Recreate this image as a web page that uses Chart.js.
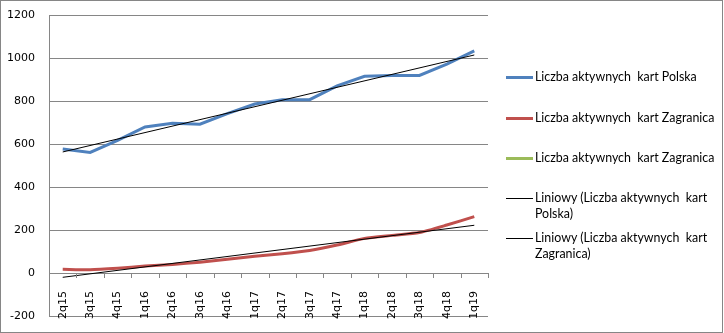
<!DOCTYPE html>
<html><head><meta charset="utf-8">
<script src="https://cdn.jsdelivr.net/npm/chart.js@4/dist/chart.umd.min.js"></script>
<style>
html,body{margin:0;padding:0;background:#fff;}
#wrap{position:absolute;left:0;top:0;width:724px;height:333px;}
#frame{position:absolute;left:0;top:0;width:723px;height:333px;box-sizing:border-box;border:1px solid #868686;pointer-events:none;}
#legend{position:absolute;left:0;top:0;font-family:Lato,"Liberation Sans",sans-serif;font-size:12.4px;color:#000;}
.li{position:absolute;left:535px;line-height:16.5px;white-space:pre;}
.sw{position:absolute;left:506px;width:27px;}
</style></head>
<body>
<div id="wrap"><canvas id="c" width="724" height="333"></canvas>
<div id="legend"></div>
<div id="frame"></div></div>
<script>
const categories = ['2q15','3q15','4q15','1q16','2q16','3q16','4q16','1q17','2q17','3q17','4q17','1q18','2q18','3q18','4q18','1q19'];
const polska = [577,561,617,679,696,692,741,786,806,806,870,915,919,919,972,1033];
const zagranica = [17,15,22,32,40,50,64,78,90,105,130,161,175,188,223,262];
const zagranica2 = [];
const trendPolska = [563,1014];
const trendZagranica = [-20,222];
const yTicks = [-200,0,200,400,600,800,1000,1200];
const seriesNames = ['Liczba aktywnych  kart Polska','Liczba aktywnych  kart Zagranica','Liczba aktywnych  kart Zagranica','Liniowy (Liczba aktywnych  kart\nPolska)','Liniowy (Liczba aktywnych  kart\nZagranica)'];
const colors = ['#4F81BD','#C0504D','#9BBB59','#000000','#000000'];

Chart.defaults.font.family = "'DejaVu Sans'";
const first = categories[0], last = categories[categories.length-1];
const grey = '#868686';

const tickMarks = {
  id:'tickMarks',
  afterDatasetsDraw(chart){
    const xs = chart.scales.x, ys = chart.scales.y, ctx = chart.ctx;
    const y0 = Math.round(ys.getPixelForValue(0));
    ctx.save(); ctx.strokeStyle = grey; ctx.lineWidth = 1; ctx.beginPath();
    for (let i = 0; i <= categories.length; i++) {
      const x = Math.round(xs.getPixelForValue(i - 0.5)) + 0.5;
      ctx.moveTo(x, y0); ctx.lineTo(x, y0 + 5);
    }
    ctx.stroke(); ctx.restore();
  }
};

new Chart(document.getElementById('c'), {
  type:'line',
  data:{labels:categories,datasets:[
    {label:seriesNames[0],data:polska,borderColor:colors[0],borderWidth:3,pointRadius:0,order:2,tension:0},
    {label:seriesNames[1],data:zagranica,borderColor:colors[1],borderWidth:3,pointRadius:0,order:2,tension:0.2},
    {label:seriesNames[2],data:zagranica2,borderColor:colors[2],borderWidth:3,pointRadius:0,order:2},
    {label:seriesNames[3],data:[{x:first,y:trendPolska[0]},{x:last,y:trendPolska[1]}],borderColor:colors[3],borderWidth:1,pointRadius:0,order:1},
    {label:seriesNames[4],data:[{x:first,y:trendZagranica[0]},{x:last,y:trendZagranica[1]}],borderColor:colors[4],borderWidth:1,pointRadius:0,order:1}
  ]},
  options:{
    responsive:false,animation:false,
    layout:{padding:{left:0,top:15,right:236,bottom:17}},
    plugins:{legend:{display:false},tooltip:{enabled:false}},
    scales:{
      y:{min:-200,max:1200,
        afterBuildTicks:s=>{s.ticks=yTicks.map(v=>({value:v}));},
        afterFit:s=>{s.width=49;s.paddingTop=0;s.paddingBottom=0;},
        grid:{color:grey,drawTicks:false,lineWidth:1},
        border:{color:grey},
        ticks:{padding:14,color:'#000',font:{size:11},callback:v=>String(v)}},
      x:{position:{y:0},offset:true,
        afterFit:s=>{s.height=0;s.paddingLeft=0;s.paddingRight=0;},
        grid:{offset:true,drawOnChartArea:false,drawTicks:true,tickLength:6,color:'rgba(0,0,0,0)'},
        border:{color:grey},
        ticks:{minRotation:90,maxRotation:90,autoSkip:false,padding:12,color:'#000',font:{size:11}}}
    }
  },
  plugins:[tickMarks]
});
const lg = document.getElementById('legend');
const ys = [77,118,158,198,238];
seriesNames.forEach((n,i)=>{
  const t=document.createElement('div');t.className='li';t.textContent=n;
  t.style.top=(ys[i]-8.25)+'px';lg.appendChild(t);
  const s=document.createElement('div');s.className='sw';
  const h=i<3?3:1;s.style.height=h+'px';s.style.background=colors[i];
  s.style.top=(ys[i]-h/2)+'px';lg.appendChild(s);
});
</script></body></html>
